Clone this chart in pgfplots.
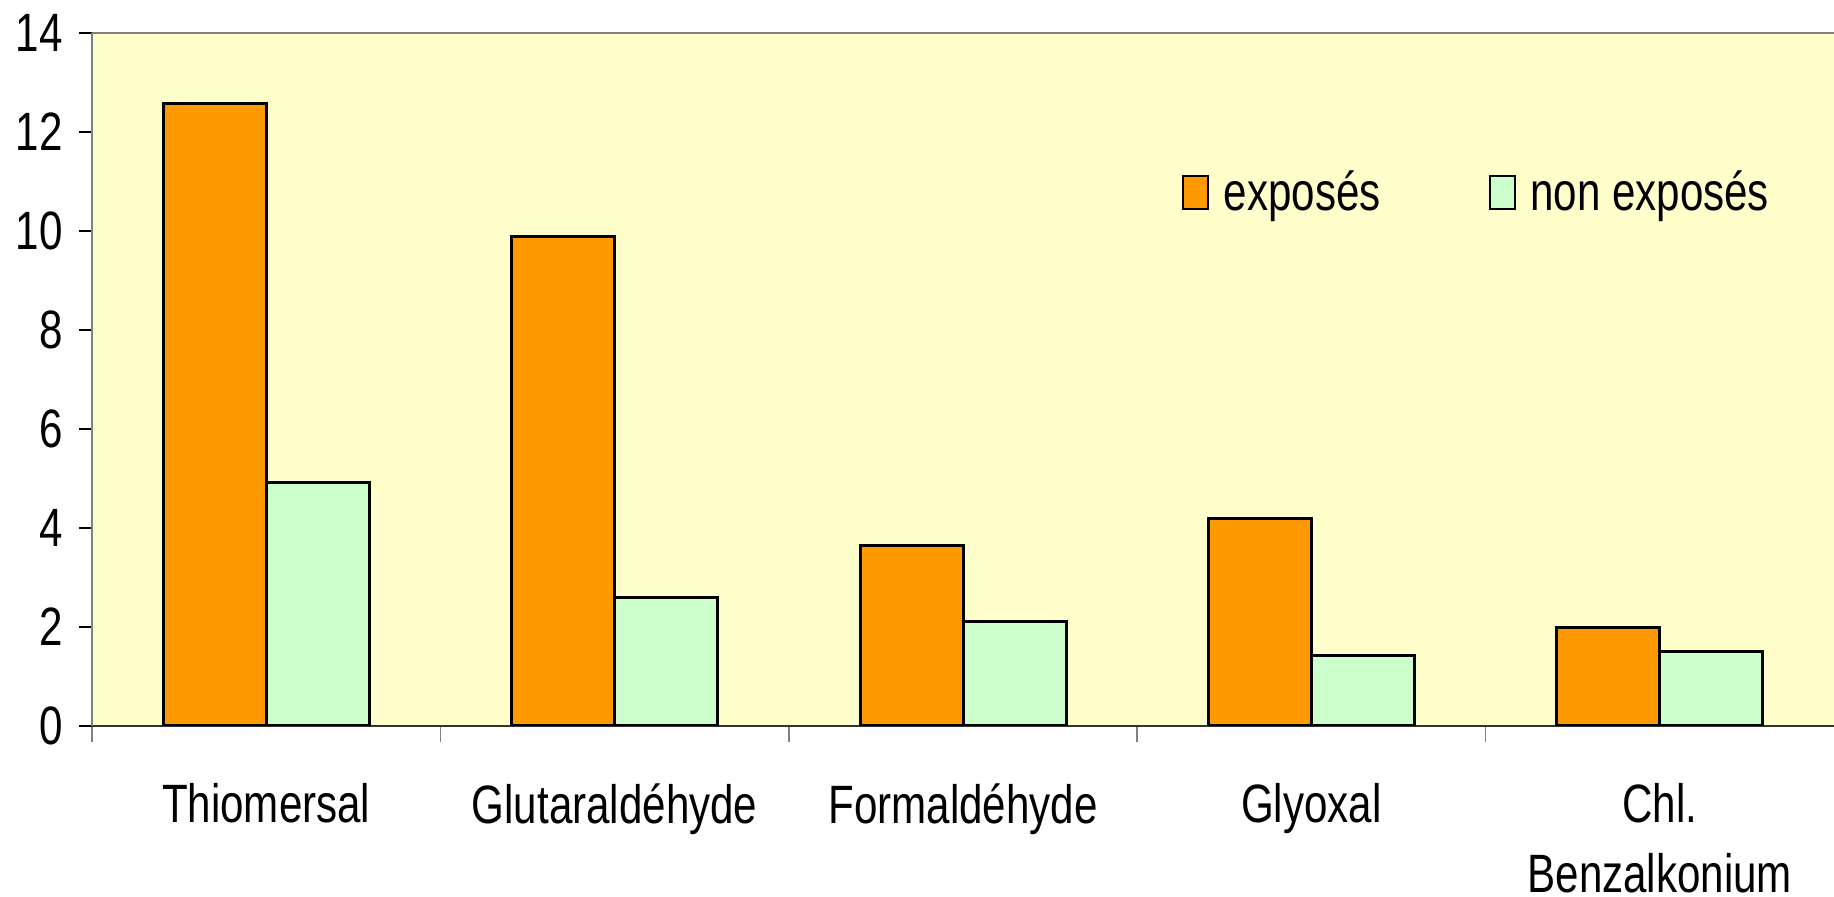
\documentclass[border=0pt]{standalone}
\usepackage{fontspec}
\setmainfont[FakeStretch=0.78]{Liberation Sans}
\usepackage{pgfplots}
\pgfplotsset{compat=1.18}
\definecolor{bgy}{HTML}{FFFFCC}
\definecolor{orbar}{HTML}{FF9900}
\definecolor{grbar}{HTML}{CCFFCC}
\definecolor{axgray}{HTML}{808080}
\newcommand{\bigf}{\fontsize{27}{35}\selectfont}
\begin{document}
\begin{tikzpicture}
\useasboundingbox (-46pt,-85.5pt) rectangle (871pt,363pt);
\begin{axis}[
  scale only axis, width=871pt, height=346.5pt,
  xmin=-0.5, xmax=4.5, ymin=0, ymax=14,
  axis background/.style={fill=bgy},
  ytick={0,2,...,14},
  xtick={0,1,2,3,4},
  xticklabels={Thiomersal, Glutaraldéhyde, Formaldéhyde, Glyoxal, {Chl.\\Benzalkonium}},
  minor xtick={-0.5,0.5,1.5,2.5,3.5},
  major x tick style={draw=none},
  minor x tick style={draw=axgray, line width=0.8pt},
  major y tick style={draw=black, line width=0.8pt},
  major tick length=6.5pt,
  minor tick length=8pt,
  tick align=outside,
  axis lines*=left,
  x axis line style={-, draw=black!80, line width=1.2pt},
  y axis line style={-, draw=axgray, line width=1pt},
  /pgf/number format/assume math mode=true,
  every tick label/.append style={font=\bigf},
  yticklabel style={anchor=east, inner sep=0pt, xshift=-8pt},
  xticklabel style={anchor=north, align=center, inner sep=0pt, yshift=-22pt},
  legend columns=2,
  legend style={draw=none, fill=none, at={(0.6257,0.77)}, anchor=west, inner sep=0pt,
    font=\bigf, /tikz/every even column/.append style={column sep=52pt}},
  legend image code/.code={\draw[#1, line width=1pt] (0pt,-8.25pt) rectangle (12.5pt,8.25pt); \path (17.5pt,0pt);},
]
\addplot[ybar, bar width=51.5pt, bar shift=-25.75pt, fill=orbar, draw=black, line width=1.5pt]
  coordinates {(0,12.58) (1,9.89) (2,3.64) (3,4.20) (4,1.98)};
\addplot[ybar, bar width=51.5pt, bar shift=25.75pt, fill=grbar, draw=black, line width=1.5pt]
  coordinates {(0,4.91) (1,2.60) (2,2.12) (3,1.42) (4,1.51)};
\legend{exposés, non exposés}
\draw[axgray, line width=1pt] (rel axis cs:0,1) -- (rel axis cs:1,1);
\end{axis}
\end{tikzpicture}
\end{document}
